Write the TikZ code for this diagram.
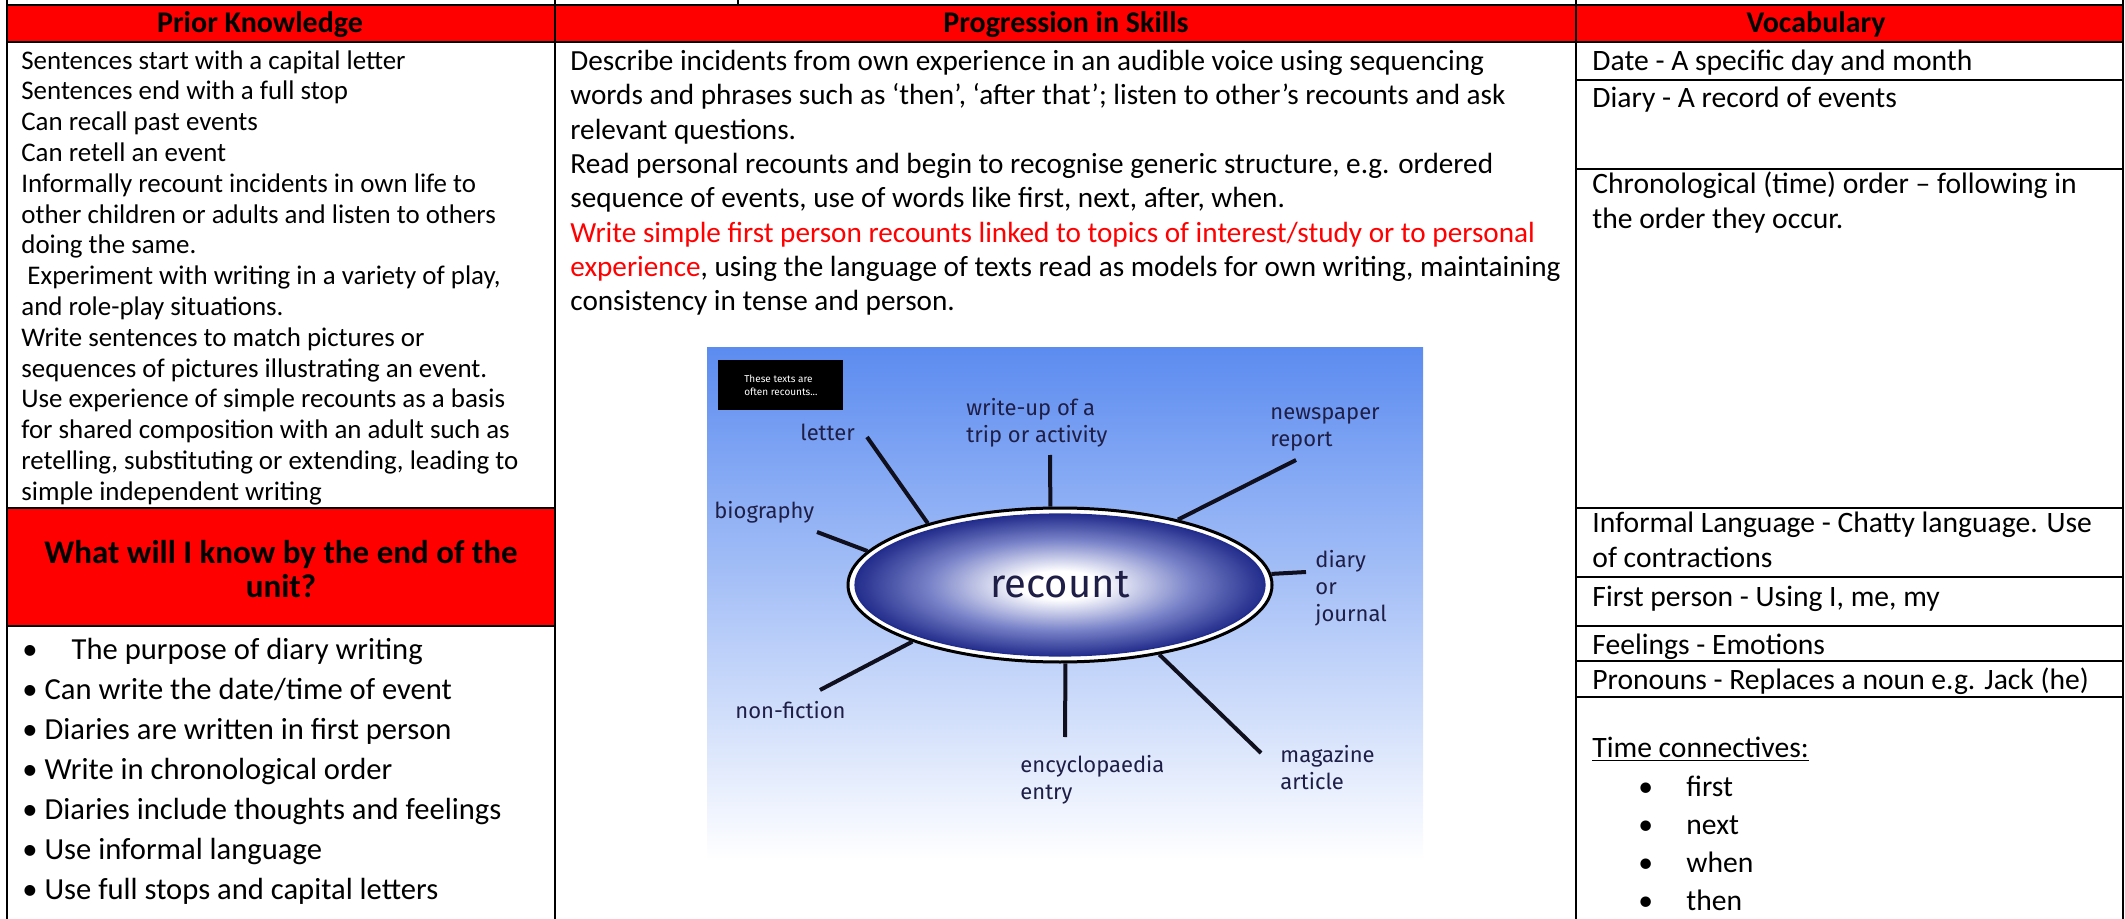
\documentclass[tikz,border=0pt]{standalone}
\usepackage{fontspec}
\setmainfont{Carlito}
\newfontfamily\labelfont{Fira Sans}
\usetikzlibrary{shapes.geometric}

\definecolor{headRed}{RGB}{255,0,0}
\definecolor{skyTop}{RGB}{92,140,240}
\definecolor{recountBlue}{RGB}{35,45,140}
\definecolor{recountMid}{RGB}{120,130,200}
\definecolor{labelInk}{RGB}{30,30,70}
\definecolor{spokeInk}{RGB}{15,15,30}

% glow of the recount bubble: white middle, dark blue rim
\pgfdeclareradialshading{recountglow}{\pgfpoint{0bp}{0bp}}{%
  color(0bp)=(white); color(5bp)=(white); color(16bp)=(recountMid); color(25bp)=(recountBlue); color(50bp)=(recountBlue)}

\tikzset{
  rule/.style={line width=1pt, black},
  headtext/.style={anchor=base, inner sep=0pt, font=\fontsize{15}{18}\selectfont\bfseries},
  % multi-line texts hang from the top of a strut in their first line
  block/.style={anchor=north west, align=left, inner sep=0pt, execute at begin node=\strut},
  priortext/.style={block, font=\fontsize{13.45}{15.4}\selectfont},
  skilltext/.style={block, font=\fontsize{14.6}{17.15}\selectfont},
  knowtext/.style={block, font=\fontsize{15.3}{20}\selectfont},
  vocabtext/.style={anchor=base west, align=left, inner sep=0pt, font=\fontsize{14.8}{17.5}\selectfont},
  vocabblock/.style={block, font=\fontsize{14.8}{17.5}\selectfont},
  spokelabel/.style={anchor=west, align=left, inner sep=0pt, text=labelInk, font=\labelfont\fontsize{11}{13.5}\selectfont},
  spoke/.style={line width=2pt, draw=spokeInk},
  ring/.style={ellipse, draw=black, line width=1.5pt, fill=white, minimum width=212pt, minimum height=77pt, inner sep=0pt},
  bubble/.style={ellipse, shading=recountglow, draw=recountBlue, line width=0.6pt, minimum width=205pt, minimum height=71pt, inner sep=0pt, text=labelInk, font=\labelfont\fontsize{20}{24}\selectfont}
}

\begin{document}
\begin{tikzpicture}[x=0.5pt, y=-0.5pt]
    \useasboundingbox (0,0) rectangle (2125,919);

    % red header bands
    \fill[headRed] (7,5) rectangle (2123,42);
    \fill[headRed] (7,508) rectangle (555,626);

    % table rules
    \draw[rule] (7,5) -- (2123,5);
    \draw[rule] (7,42) -- (2123,42);
    \draw[rule] (7,508) -- (555,508);
    \draw[rule] (7,626) -- (555,626);
    \foreach \y in {80,169,508,577,626,661,697}
        \draw[rule] (1576,\y) -- (2123,\y);
    \foreach \x in {7,555,1576,2123}
        \draw[rule] (\x,0) -- (\x,919);
    \draw[rule] (738,0) -- (738,5);

    % headings
    \node[headtext] (priorHead) at (260,33) {Prior Knowledge};
    \node[headtext] (skillHead) at (1066,33) {Progression in Skills};
    \node[headtext] (vocabHead) at (1816,33) {Vocabulary};

    % prior knowledge
    \node[priortext] (priorText) at (21,50) {Sentences start with a capital letter\\
        Sentences end with a full stop\\
        Can recall past events\\
        Can retell an event\\
        Informally recount incidents in own life to\\
        other children or adults and listen to others\\
        doing the same.\\
        \ Experiment with writing in a variety of play,\\
        and role-play situations.\\
        Write sentences to match pictures or\\
        sequences of pictures illustrating an event.\\
        Use experience of simple recounts as a basis\\
        for shared composition with an adult such as\\
        retelling, substituting or extending, leading to\\
        simple independent writing};

    \node[anchor=north, align=center, inner sep=0pt, execute at begin node=\strut,
        font=\fontsize{16.5}{17}\selectfont\bfseries]
        (knowHead) at (281,540) {What will I know by the end of the\\unit?};

    \node[knowtext] (knowList) at (22,638) {\textbullet\hspace{17pt}The purpose of diary writing\\
        \textbullet\ Can write the date/time of event\\
        \textbullet\ Diaries are written in first person\\
        \textbullet\ Write in chronological order\\
        \textbullet\ Diaries include thoughts and feelings\\
        \textbullet\ Use informal language\\
        \textbullet\ Use full stops and capital letters};

    % progression in skills
    \node[skilltext] (skillText) at (570,50) {Describe incidents from own experience in an audible voice using sequencing\\
        words and phrases such as ‘then’, ‘after that’; listen to other’s recounts and ask\\
        relevant questions.\\
        Read personal recounts and begin to recognise generic structure, e.g. ordered\\
        sequence of events, use of words like first, next, after, when.\\
        \textcolor{headRed}{Write simple first person recounts linked to topics of interest/study or to personal}\\
        \textcolor{headRed}{experience}, using the language of texts read as models for own writing, maintaining\\
        consistency in tense and person.};

    % recount picture
    \fill[top color=skyTop, bottom color=white] (707,348) rectangle (1423,860);
    \node[anchor=north west, fill=black, minimum width=62.5pt, minimum height=25pt, inner sep=1pt,
        align=left, text=white, font=\labelfont\fontsize{5}{6.5}\selectfont]
        (textsBox) at (718,360) {These texts are\\often recounts...};

    \node[ring] (ring) at (1060,585) {};

    \coordinate (letterEnd) at (867,437);
    \coordinate (writeEnd) at (1050,455);
    \coordinate (paperEnd) at (1296,460);
    \coordinate (bioEnd) at (817,532);
    \coordinate (diaryEnd) at (1306,572);
    \coordinate (factEnd) at (820,690);
    \coordinate (encycEnd) at (1065,737);
    \coordinate (magEnd) at (1261,753);

    \draw[spoke] (ring.155) -- (letterEnd);
    \draw[spoke] (ring.97) -- (writeEnd);
    \draw[spoke] (ring.29) -- (paperEnd);
    \draw[spoke] (ring.170) -- (bioEnd);
    \draw[spoke] (ring.3) -- (diaryEnd);
    \draw[spoke] (ring.201) -- (factEnd);
    \draw[spoke] (ring.274) -- (encycEnd);
    \draw[spoke] (ring.325) -- (magEnd);

    \node[bubble] (recount) at (ring.center) {recount};

    \node[spokelabel] (letter) at (800,432) {letter};
    \node[spokelabel] (writeUp) at (966,423) {write-up of a\\trip or activity};
    \node[spokelabel] (paper) at (1270,429) {newspaper\\report};
    \node[spokelabel] (bio) at (714,512) {biography};
    \node[spokelabel] (diary) at (1315,588) {diary\\or\\journal};
    \node[spokelabel] (fact) at (735,710) {non-fiction};
    \node[spokelabel] (encyc) at (1020,780) {encyclopaedia\\entry};
    \node[spokelabel] (mag) at (1280,768) {magazine\\article};

    % vocabulary
    \node[vocabtext] (dateWord) at (1592,71) {Date - A specific day and month};
    \node[vocabtext] (diaryWord) at (1592,108) {Diary - A record of events};
    \node[vocabblock] (chronoWord) at (1592,171.5) {Chronological (time) order – following in\\the order they occur.};
    \node[vocabblock] (informalWord) at (1592,511.5) {Informal Language - Chatty language. Use\\of contractions};
    \node[vocabtext] (personWord) at (1592,606) {First person - Using I, me, my};
    \node[vocabtext] (feelWord) at (1592,654) {Feelings - Emotions};
    \node[vocabtext] (pronounWord) at (1592,689) {Pronouns - Replaces a noun e.g. Jack (he)};
    \node[vocabtext] (timeWord) at (1592,757) {\underline{Time connectives:}};
    \foreach \w [count=\i] in {first,next,when,then} {
        \node[vocabtext] (bullet\i) at (1638,758+38*\i) {\textbullet};
        \node[vocabtext] (conn\i) at (1686,758+38*\i) {\w};
    }
\end{tikzpicture}
\end{document}
